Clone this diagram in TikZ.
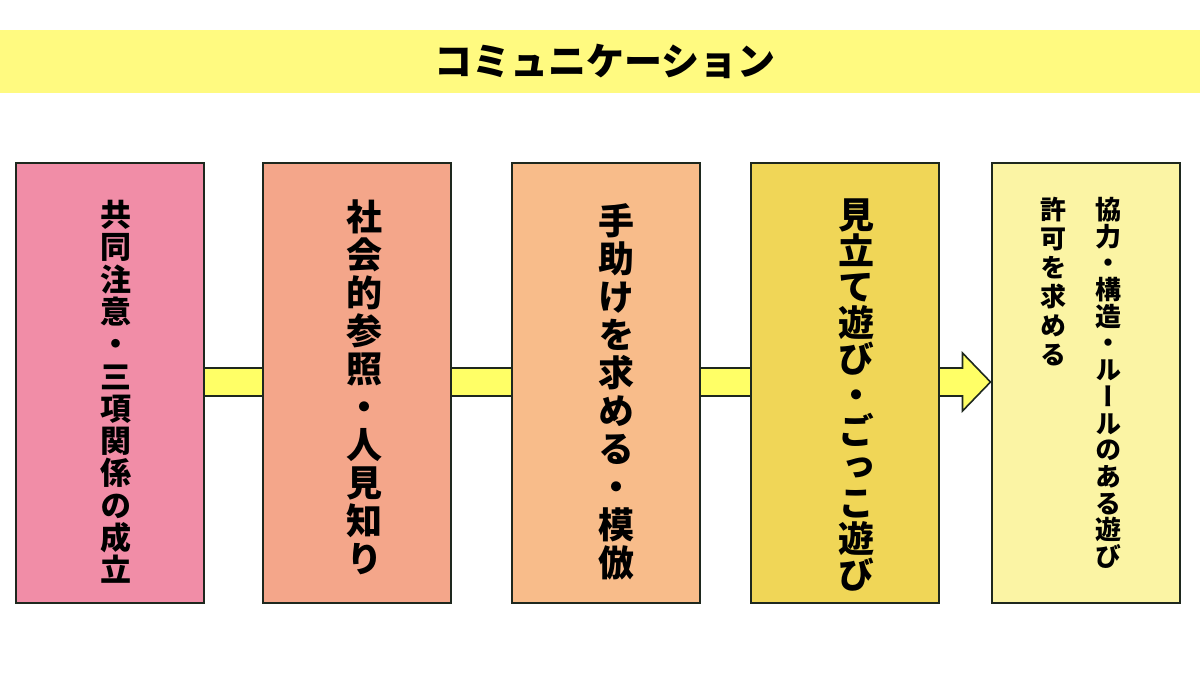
\documentclass[tikz,border=0pt]{standalone}
\usepackage{fontspec}
\newfontfamily\jpfont{Noto Sans CJK JP}
\newfontfamily\tatefont{Noto Sans CJK JP}[RawFeature=+vert]
\usetikzlibrary{backgrounds,calc}

\definecolor{bannerY}{RGB}{255,250,128}
\definecolor{arrowY}{RGB}{255,255,102}
\definecolor{stepA}{RGB}{241,141,167}
\definecolor{stepB}{RGB}{244,166,138}
\definecolor{stepC}{RGB}{248,188,138}
\definecolor{stepD}{RGB}{240,214,87}
\definecolor{stepE}{RGB}{251,244,164}
\definecolor{edgeK}{RGB}{30,40,30}

% stack the characters of #1 one below the other
\makeatletter
\newcommand\tate[1]{\let\tate@sep\relax\@tfor\tate@c:=#1\do{\tate@sep\tate@c\let\tate@sep\\}}
\makeatother

\tikzset{
  stepbox/.style={draw=edgeK, line width=2pt, minimum width=188, minimum height=440, inner sep=0},
  tatetext/.style={text width=2em, align=center, inner sep=0, anchor=north},
}

\begin{document}
\begin{tikzpicture}[x=1pt,y=-1pt]
    \def\bigtate{\tatefont\bfseries\fontsize{36}{38}\selectfont}
    \def\smalltate{\tatefont\bfseries\fontsize{26}{26.7}\selectfont}
\useasboundingbox (0,0) rectangle (1200,675);
\fill[bannerY] (0,30) rectangle (1200,93);
\node[font=\jpfont\bfseries\fontsize{38}{40}\selectfont, inner sep=0] (title) at (605,61) {コミュニケーション};

\node[stepbox, fill=stepA] (b1) at (110,383) {};
\node[stepbox, fill=stepB] (b2) at (356.5,383) {};
\node[stepbox, fill=stepC] (b3) at (606,383) {};
\node[stepbox, fill=stepD] (b4) at (845,383) {};
\node[stepbox, fill=stepE] (b5) at (1085.5,383) {};

\begin{scope}[on background layer]
\filldraw[fill=arrowY, draw=edgeK, line width=1.6pt, line join=miter]
  ([yshift=15]b1.center) -- ([xshift=-28,yshift=15]b5.west) -- ([xshift=-28,yshift=30]b5.west)
  -- ([yshift=1]b5.west) -- ([xshift=-28,yshift=-28]b5.west) -- ([xshift=-28,yshift=-13]b5.west)
  -- ([yshift=-13]b1.center) -- cycle;
\end{scope}

\node[tatetext, font=\tatefont\bfseries\fontsize{31}{32.3}\selectfont] (t1) at ([yshift=-38]b1.north) {\tate{共同注意・三項関係の成立}};
\node[tatetext, font=\bigtate] (t2) at ([yshift=-38]b2.north) {\tate{社会的参照・人見知り}};
\node[tatetext, font=\bigtate] (t3) at ([xshift=2,yshift=-41]b3.north) {\tate{手助けを求める・模倣}};
\node[tatetext, font=\tatefont\bfseries\fontsize{36}{36}\selectfont] (t4) at ([xshift=3,yshift=-37]b4.north) {\tate{見立て遊び・ごっこ遊び}};
\node[tatetext, font=\smalltate] (t5) at ([xshift=20,yshift=-35]b5.north) {\tate{協力・構造・ルールのある遊び}};
\node[tatetext, font=\tatefont\bfseries\fontsize{26}{29}\selectfont] (t6) at ([xshift=-35,yshift=-35]b5.north) {\tate{許可を求める}};
\end{tikzpicture}
\end{document}
